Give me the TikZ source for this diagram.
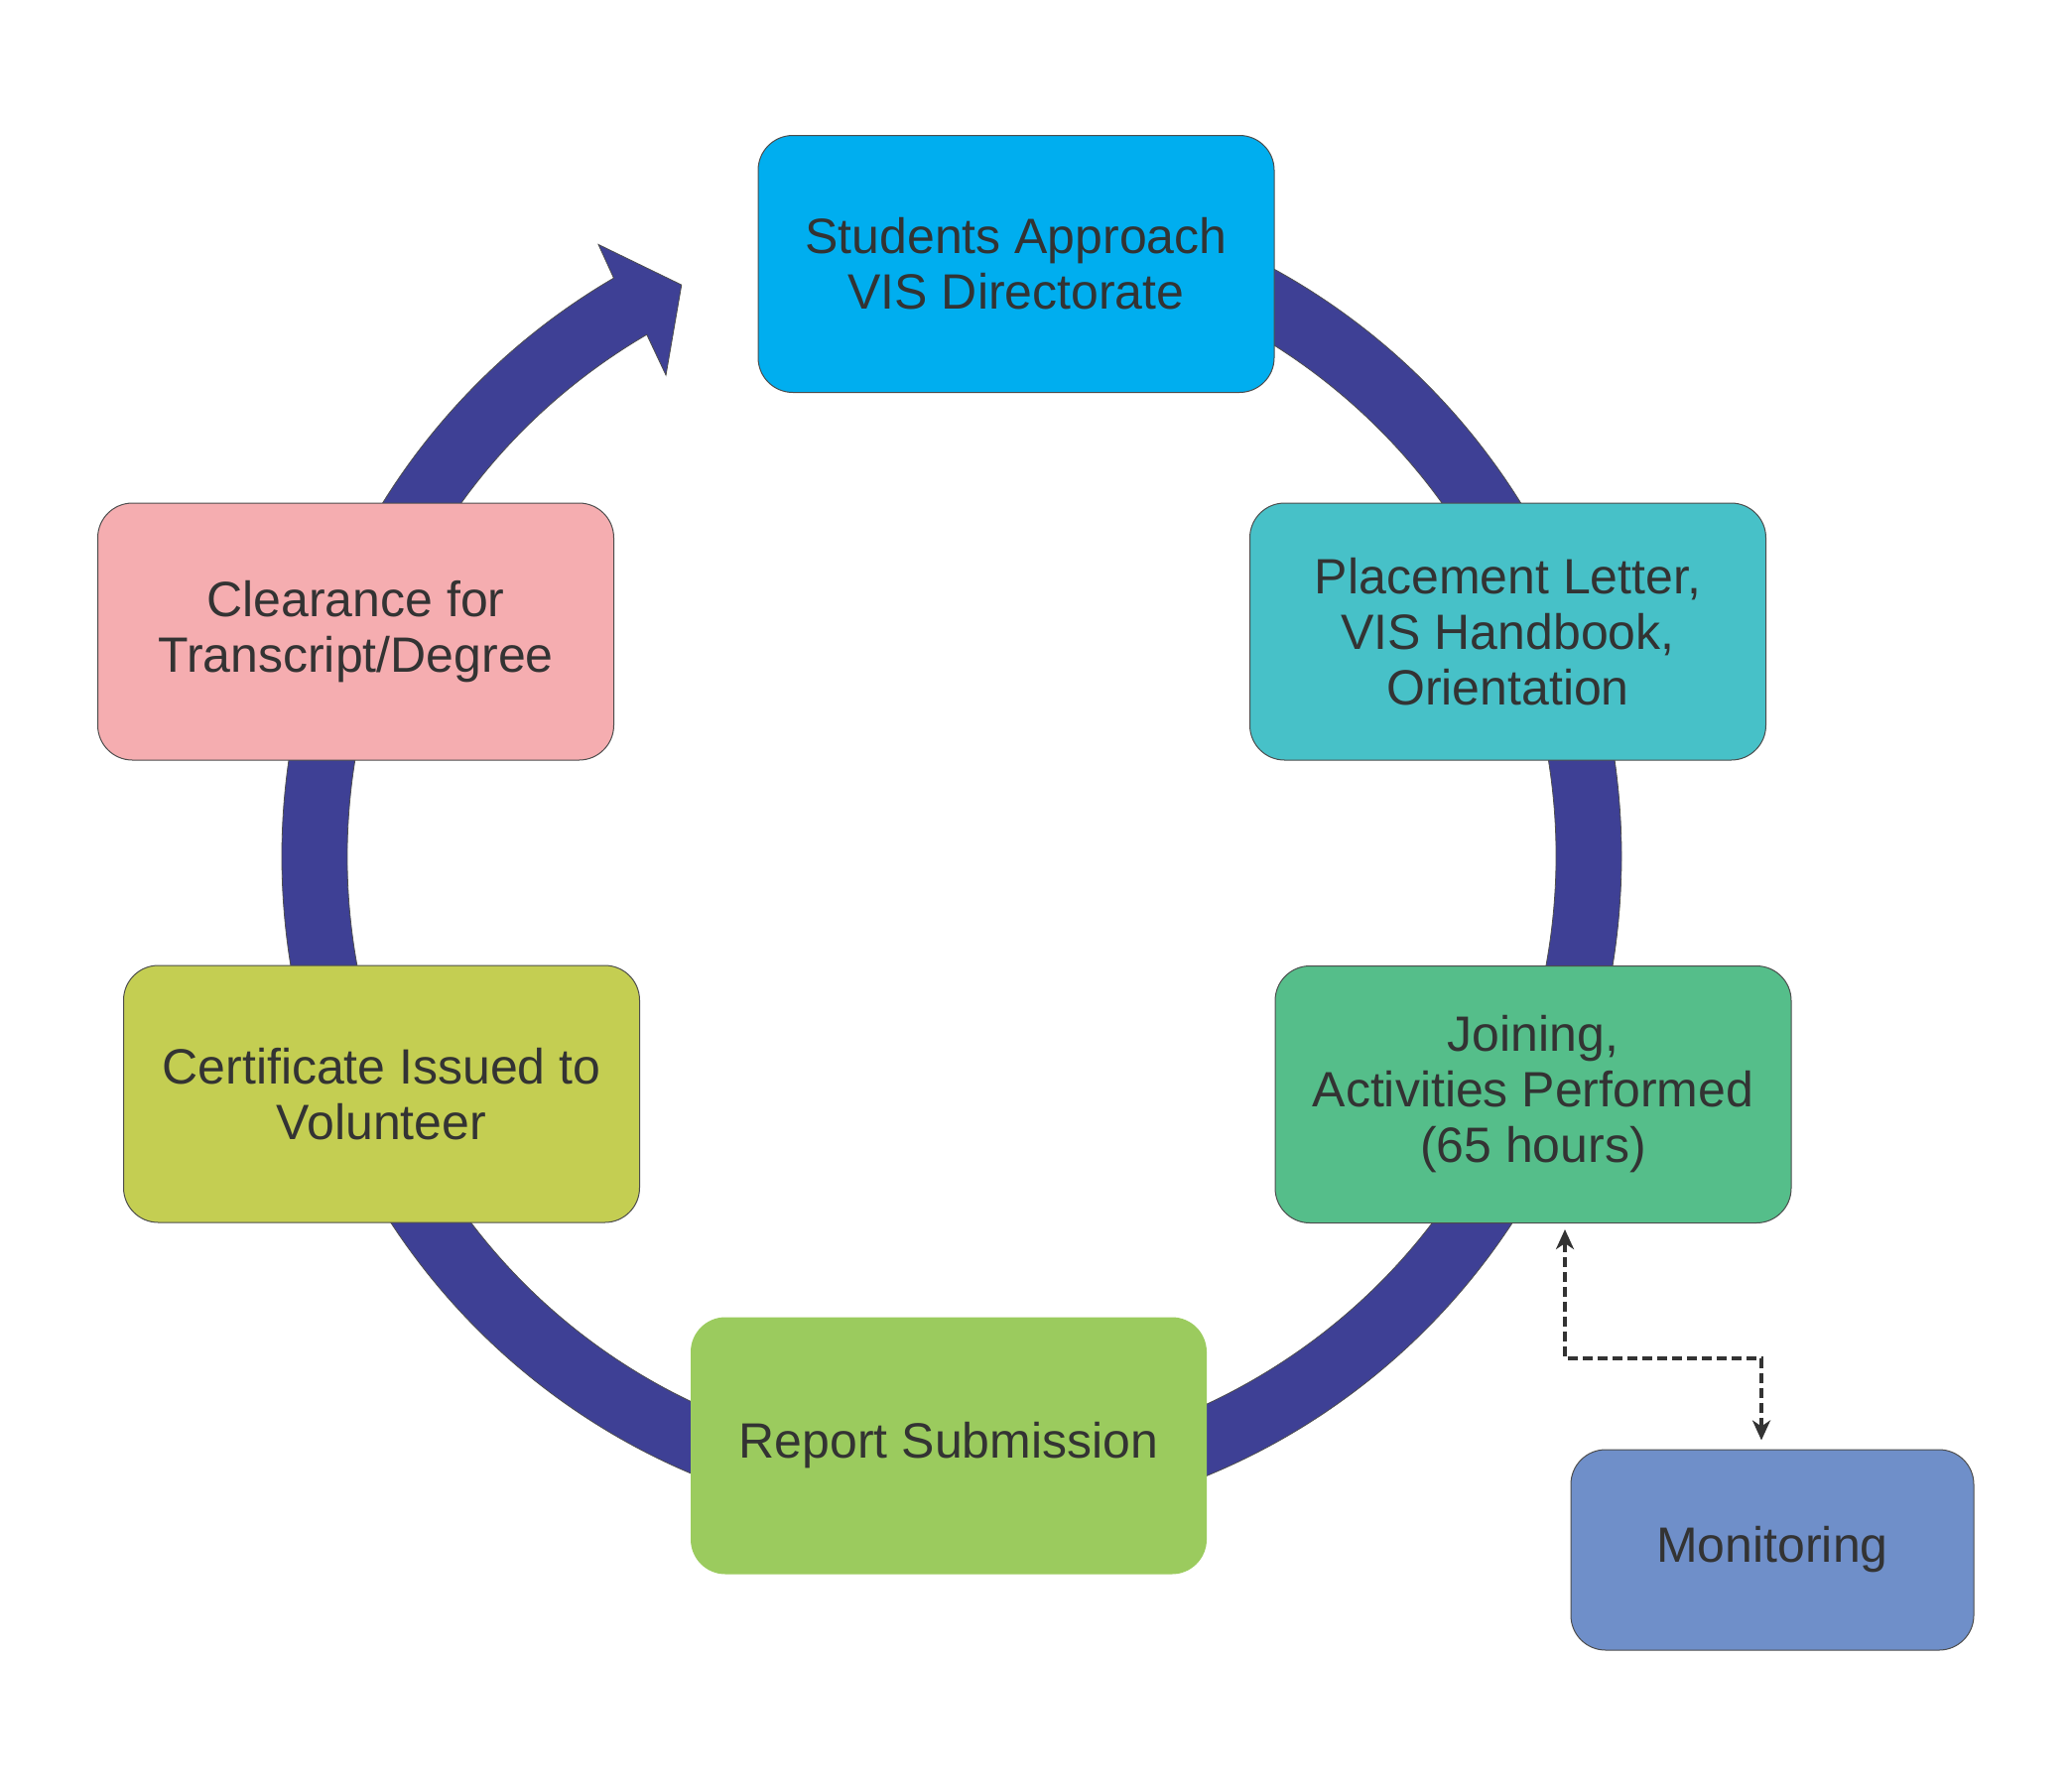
\documentclass[tikz,border=0pt]{standalone}
\usepackage{fontspec}
\setmainfont{Liberation Sans}
\usetikzlibrary{arrows.meta,calc}

\definecolor{ringblue}{HTML}{3E4095}
\definecolor{textgray}{HTML}{333333}
\definecolor{edgegray}{HTML}{4D4D4D}
\definecolor{applyfill}{HTML}{00AEEF}
\definecolor{letterfill}{HTML}{47C1C8}
\definecolor{joinfill}{HTML}{55BE8A}
\definecolor{reportfill}{HTML}{9BCB5E}
\definecolor{certfill}{HTML}{C4CE52}
\definecolor{clearfill}{HTML}{F5ADB0}
\definecolor{monitorfill}{HTML}{6F8FC9}

\tikzset{every picture/.style={line width=0.75pt}}
\tikzset{
	stagebox/.style={rounded corners=17.5pt, minimum width=260pt, minimum height=129.5pt, align=center, text=textgray, draw=edgegray, line width=0.5pt, font=\fontsize{25}{28}\selectfont},
	monline/.style={draw=textgray, line width=2.3pt, dash pattern={on 5pt off 2.5pt}, {Stealth[length=10pt,width=9pt,inset=3pt]}-{Stealth[length=10pt,width=9pt,inset=3pt]}}
}

\begin{document}
\begin{tikzpicture}[x=0.5pt,y=0.5pt,yscale=-1]
	%set diagram size 2088 x 1800
	\path[use as bounding box] (0,0) rectangle (2088,1800);
	
	%Shape: Circular Arrow [id:ring]
	\coordinate (ring) at (959,863);
	\filldraw [fill=ringblue, draw=edgegray, line width=0.4pt] ($(ring)+(-90:675)$) arc[start angle=-90, end angle=239.7, radius=675] -- ($(ring)+(240:712)$) -- ($(ring)+(244.7:637)$) -- ($(ring)+(239.3:564)$) -- ($(ring)+(239.7:609)$) arc[start angle=239.7, end angle=-90, radius=609] -- cycle ;
	
	%Shape: Rounded Rect [id:apply]
	\node (apply) [stagebox, fill=applyfill] at (1024,266) {Students Approach\\VIS Directorate};
	%Shape: Rounded Rect [id:letter]
	\node (letter) [stagebox, fill=letterfill] at (1519.5,636.5) {Placement Letter,\\VIS Handbook,\\Orientation};
	%Shape: Rounded Rect [id:join]
	\node (join) [stagebox, fill=joinfill] at (1545,1103) {Joining,\\Activities Performed\\(65 hours)};
	%Shape: Rounded Rect [id:report]
	\node (report) [stagebox, fill=reportfill, draw=none] at (956,1457) {Report Submission};
	%Shape: Rounded Rect [id:cert]
	\node (cert) [stagebox, fill=certfill] at (384.5,1102.5) {Certificate Issued to\\Volunteer};
	%Shape: Rounded Rect [id:clear]
	\node (clear) [stagebox, fill=clearfill] at (358.5,636.5) {Clearance for\\Transcript/Degree};
	%Shape: Rounded Rect [id:monitor]
	\node (monitor) [stagebox, fill=monitorfill, minimum width=203pt, minimum height=101pt] at (1786,1562) {Monitoring};
	
	%Straight Lines [id:monlink]
	\draw [monline, shorten <=3pt, shorten >=4.5pt] ([xshift=16pt]join.south) -- ++(0,136) -| ([xshift=-5.5pt]monitor.north) ;
	
\end{tikzpicture}
\end{document}
